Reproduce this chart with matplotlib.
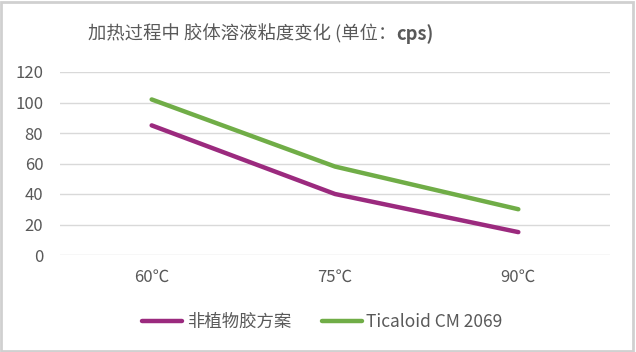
import matplotlib.pyplot as plt
import matplotlib.patches as patches

plt.rcParams['font.family'] = ['Noto Sans CJK SC', 'DejaVu Sans']

categories = ['60℃', '75℃', '90℃']
series_names = ['非植物胶方案', 'Ticaloid CM 2069']
plant_free = [85, 40, 15]
ticaloid = [102, 58, 30]
colors = ['#9B2A7E', '#70AD47']

fig = plt.figure(figsize=(6.36, 3.52), dpi=100)
ax = fig.add_axes([60/636, 1-255/352, 550/636, 183/352])

x = range(len(categories))
for vals, name, c in zip([plant_free, ticaloid], series_names, colors):
    ax.plot(x, vals, color=c, lw=3.2, label=name, solid_capstyle='round')

ax.set_xlim(-0.5, len(categories)-0.5)
ax.set_ylim(0, 120)
ax.set_yticks(range(0, 121, 20))
ax.set_xticks(list(x))
ax.set_xticklabels(categories)
ax.grid(axis='y', color='#D9D9D9', lw=1)
ax.set_axisbelow(True)
for s in ax.spines.values():
    s.set_visible(False)
ax.tick_params(length=0, labelsize=12, colors='#595959')
ax.tick_params(axis='x', pad=10)
ax.tick_params(axis='y', pad=12)

leg = fig.legend(loc='center', bbox_to_anchor=(0.507, 1-322/352), ncol=2,
                 frameon=False, fontsize=12.5, handlelength=2.3, handletextpad=0.25,
                 columnspacing=1.8)
for t in leg.get_texts():
    t.set_color('#595959')

t1 = fig.text(88/636, 1-34/352, '加热过程中 胶体溶液粘度变化 (单位：', fontsize=13.2,
              color='#595959', va='center', ha='left')
ax.annotate('cps)', xy=(1, 0.5), xycoords=t1, va='center', ha='left',
            fontsize=13.2, color='#595959', fontweight='bold')

fig.patches.append(patches.Rectangle((0.002, 0.003), 0.994, 0.992, transform=fig.transFigure,
                                     fill=False, ec='#D0D0D0', lw=2))

fig.savefig('out.png', dpi=100)
